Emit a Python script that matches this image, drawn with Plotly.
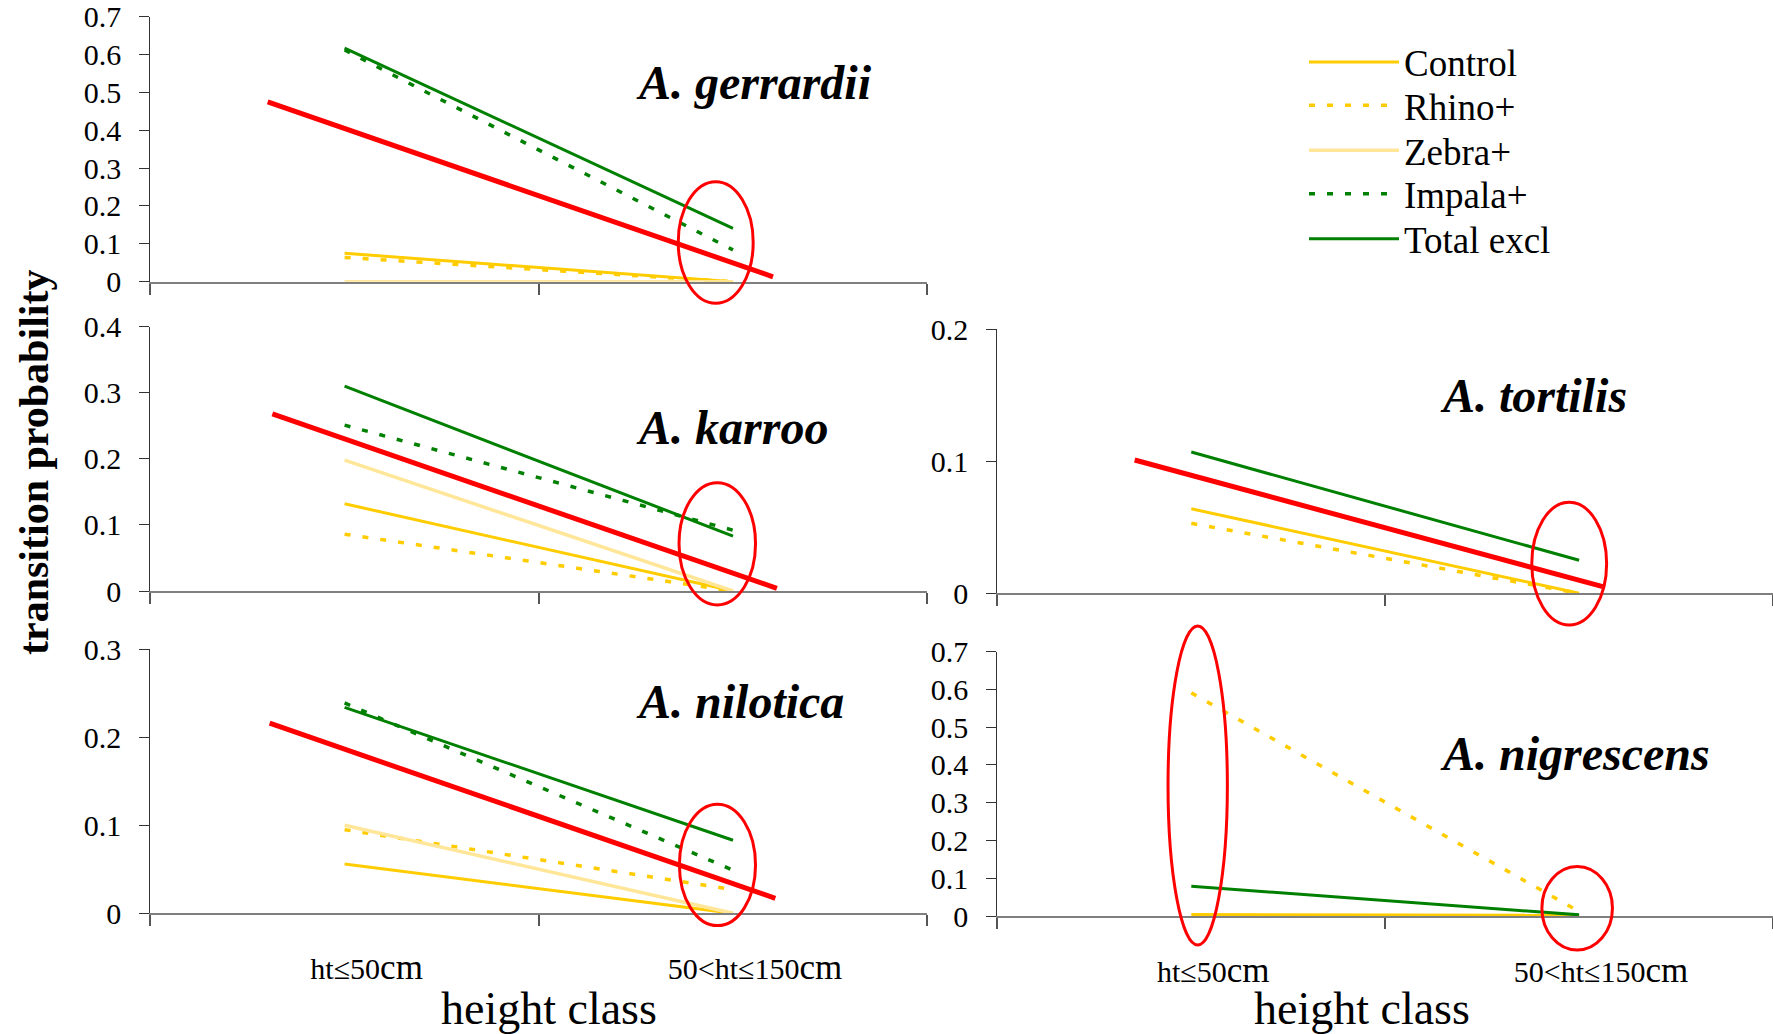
import html
import plotly.graph_objects as go

# ---------------- data ----------------
categories = ["ht≤50", "50<ht≤150"]
unit = "cm"
species = ["A. gerrardii", "A. karroo", "A. nilotica", "A. tortilis", "A. nigrescens"]
series_names = ["Control", "Rhino+", "Zebra+", "Impala+", "Total excl"]

control = [[0.075, 0.0], [0.132, 0.0], [0.056, 0.0], [0.064, 0.0], [0.004, 0.002]]
rhino = [[0.064, 0.0], [0.086, 0.0], [0.095, 0.027], [0.053, 0.0], [0.591, 0.012]]
zebra = [[0.0, 0.0], [0.198, 0.0], [0.100, 0.0], None, None]
impala = [[0.612, 0.084], [0.251, 0.092], [0.239, 0.049], None, None]
total = [[0.617, 0.141], [0.310, 0.083], [0.234, 0.083], [0.107, 0.025], [0.079, 0.003]]

# red trend lines (x in category units, y in probability)
trend_x = [[-0.198, 1.103], [-0.186, 1.113], [-0.193, 1.109], [-0.146, 1.061], None]
trend_y = [[0.475, 0.013], [0.268, 0.004], [0.216, 0.017], [0.101, 0.005], None]

# red highlight ellipses: (panel, x-extent, y-extent) in data units
highlight_panel = [0, 1, 2, 3, 4, 4]
highlight_x = [[0.859, 1.052], [0.861, 1.058], [0.862, 1.058], [0.878, 1.071], [-0.060, 0.093], [0.904, 1.086]]
highlight_y = [[-0.057, 0.264], [-0.021, 0.164], [-0.014, 0.124], [-0.024, 0.069], [-0.077, 0.768], [-0.090, 0.131]]

y_max = [0.7, 0.4, 0.3, 0.2, 0.7]
y_title = "transition probability"
x_title = "height class"

# ---------------- styles / layout ----------------
W, H = 1773, 1034
FONT = "Liberation Serif, Times New Roman, serif"
GOLD = "#FFCC00"
PALE = "#FFE699"
GREEN = "#008000"
RED = "#FF0000"

styles = {
    "Control": dict(color=GOLD, width=3),
    "Rhino+": dict(color=GOLD, width=3.5, dash="6px,12px"),
    "Zebra+": dict(color=PALE, width=3.5),
    "Impala+": dict(color=GREEN, width=3.5, dash="6px,12px"),
    "Total excl": dict(color=GREEN, width=3),
}
series_data = {"Control": control, "Rhino+": rhino, "Zebra+": zebra,
               "Impala+": impala, "Total excl": total}

def px_y(p):
    return 1 - p / H

def px_x(p):
    return p / W

XL = [px_x(150.4), px_x(927.2)]
XR = [px_x(997.4), 1.0]
panel_dom = [
    (XL, [px_y(281.7), px_y(16.7)]),
    (XL, [px_y(591.0), px_y(326.7)]),
    (XL, [px_y(913.3), px_y(649.3)]),
    (XR, [px_y(593.3), px_y(329.3)]),
    (XR, [px_y(916.0), px_y(651.7)]),
]
show_xlabels = [False, False, True, False, True]
label_pos = [(634, 82.1), (634, 427.8), (634, 701.8), (1438, 395.5), (1438, 753.8)]
legend_rows = [62.5, 105.8, 150.8, 194.2, 239.2]
legend_ids = ["legend", "legend2", "legend3", "legend4", "legend5"]

tick_text = [html.escape(c) + f"<span style='font-size:35px'>{unit}</span>" for c in categories]

fig = go.Figure()

for i in range(5):
    n = "" if i == 0 else str(i + 1)
    xa, ya = "x" + n, "y" + n
    for k, name in enumerate(series_names):
        vals = series_data[name][i]
        if vals is None:
            continue
        fig.add_trace(go.Scatter(
            x=[0, 1], y=vals, mode="lines", name=name, line=styles[name],
            xaxis=xa, yaxis=ya, legendgroup=name, showlegend=(i == 0),
            legend=legend_ids[k], hoverinfo="skip"))
    if trend_x[i] is not None:
        fig.add_trace(go.Scatter(
            x=trend_x[i], y=trend_y[i], mode="lines", line=dict(color=RED, width=5),
            xaxis=xa, yaxis=ya, showlegend=False, hoverinfo="skip"))

layout = dict(
    width=W, height=H, margin=dict(l=0, r=0, t=0, b=0, autoexpand=False),
    paper_bgcolor="white", plot_bgcolor="rgba(0,0,0,0)",
    font=dict(family=FONT, color="black"),
    showlegend=True,
)
for k, lid in enumerate(legend_ids):
    layout[lid] = dict(x=px_x(1304), y=px_y(legend_rows[k]), xanchor="left", yanchor="middle",
                       font=dict(family=FONT, size=37, color="black"),
                       bgcolor="rgba(0,0,0,0)", itemwidth=90)
for i, (xd, yd) in enumerate(panel_dom):
    n = "" if i == 0 else str(i + 1)
    layout["xaxis" + n] = dict(
        domain=xd, range=[-0.5, 1.5], anchor="y" + n, automargin=False,
        tickmode="array", tickvals=[0, 1], ticktext=tick_text,
        showticklabels=show_xlabels[i], ticks="",
        tickfont=dict(family=FONT, size=30, color="black"),
        ticklabelstandoff=28, ticklabelshift=22,
        showline=True, linecolor="#7f7f7f", linewidth=2,
        showgrid=False, zeroline=False, fixedrange=True,
        minor=dict(tickmode="array", tickvals=[-0.5, 0.5, 1.5], ticks="outside",
                   ticklen=11, tickwidth=1.5, tickcolor="#555", showgrid=False),
    )
    layout["yaxis" + n] = dict(
        domain=yd, range=[0, y_max[i]], anchor="x" + n, automargin=False,
        tickmode="linear", tick0=0, dtick=0.1,
        ticks="outside", ticklen=10, tickwidth=1.2, tickcolor="#333",
        tickfont=dict(family=FONT, size=30, color="black"),
        ticklabelstandoff=12,
        showline=True, linecolor="#333", linewidth=1.2,
        showgrid=False, zeroline=False, fixedrange=True,
    )
fig.update_layout(**layout)

# ellipses (positioned through each subplot's axis range, not clipped)
for p, hx, hy in zip(highlight_panel, highlight_x, highlight_y):
    n = "" if p == 0 else str(p + 1)
    fx = [(v + 0.5) / 2.0 for v in hx]
    fy = [v / y_max[p] for v in hy]
    fig.add_shape(type="circle", xref="x" + n + " domain", yref="y" + n + " domain",
                  x0=fx[0], x1=fx[1], y0=fy[0], y1=fy[1],
                  line=dict(color=RED, width=3), fillcolor="rgba(0,0,0,0)")

# species labels
for name, (lx, ly) in zip(species, label_pos):
    fig.add_annotation(text=f"<b><i>{name}</i></b>", x=px_x(lx), y=px_y(ly),
                       xref="paper", yref="paper", xanchor="left", yanchor="middle",
                       showarrow=False, font=dict(family=FONT, size=48, color="black"))

# axis titles
fig.add_annotation(text=f"<b>{y_title}</b>", x=px_x(34), y=px_y(463), xref="paper", yref="paper",
                   textangle=-90, showarrow=False, xanchor="center", yanchor="middle",
                   font=dict(family=FONT, size=42, color="black"))
for cx in (548.6, 1362):
    fig.add_annotation(text=x_title, x=px_x(cx), y=px_y(1008), xref="paper", yref="paper",
                       showarrow=False, xanchor="center", yanchor="middle",
                       font=dict(family=FONT, size=46, color="black"))

fig.write_html("out.html", config={"displayModeBar": False},
               post_script="document.body.style.margin='0';")
